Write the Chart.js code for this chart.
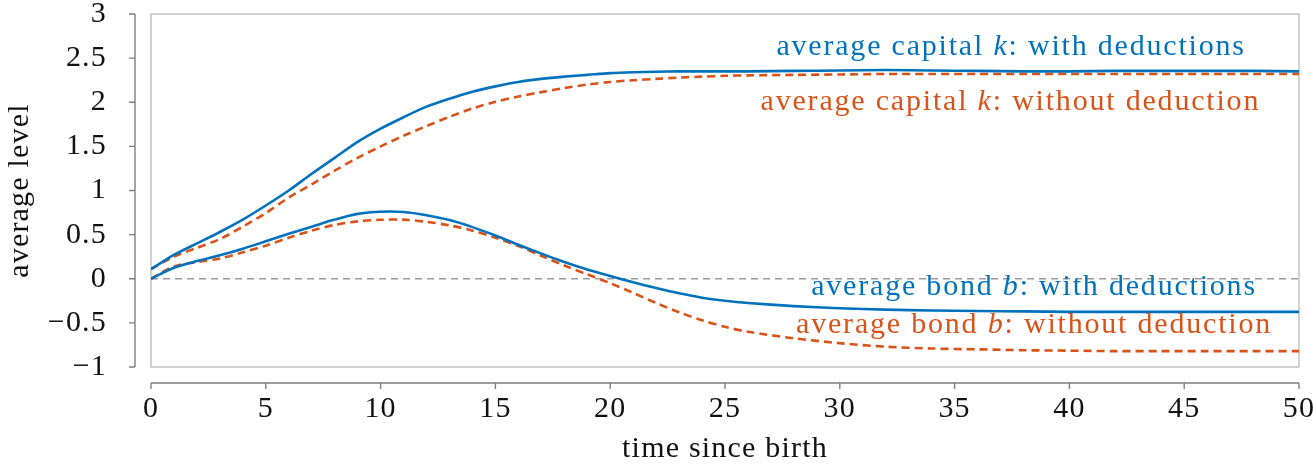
<!DOCTYPE html>
<html>
<head>
<meta charset="utf-8">
<script src="https://cdn.jsdelivr.net/npm/chart.js@4/dist/chart.umd.min.js"></script>
<style>
  html, body { margin: 0; padding: 0; background: #fff; }
  #wrap { width: 1313px; height: 467px; }
</style>
</head>
<body>
<div id="wrap"><canvas id="myChart" width="1313" height="467"></canvas></div>
<script>
// time since birth
const times = [0, 1, 2, 3, 4, 5, 6, 7, 8, 9, 10, 11, 12, 13, 14, 15, 16, 17, 18, 19, 20,
    21, 22, 23, 24, 25, 26, 28, 30, 32, 34, 36, 38, 40, 42, 44, 46, 48, 50];

// average capital k
const capitalWith = [0.11, 0.27, 0.40, 0.53, 0.67, 0.83, 1.00, 1.19, 1.37, 1.55, 1.70, 1.83, 1.95,
    2.04, 2.12, 2.18, 2.23, 2.265, 2.29, 2.31, 2.33, 2.34, 2.345, 2.35, 2.35, 2.35, 2.35,
    2.355, 2.36, 2.365, 2.36, 2.355, 2.35, 2.35, 2.355, 2.355, 2.355, 2.355, 2.35];
const capitalWithout = [0.11, 0.25, 0.35, 0.45, 0.59, 0.745, 0.92, 1.07, 1.225, 1.37, 1.50, 1.62, 1.73,
    1.835, 1.93, 2.005, 2.065, 2.115, 2.16, 2.20, 2.23, 2.25, 2.265, 2.28, 2.29, 2.30, 2.305,
    2.31, 2.315, 2.32, 2.32, 2.32, 2.32, 2.32, 2.32, 2.32, 2.32, 2.32, 2.32];

// average bond b
const bondWith = [0, 0.125, 0.20, 0.265, 0.34, 0.425, 0.51, 0.59, 0.67, 0.735, 0.76, 0.757, 0.72,
    0.665, 0.585, 0.49, 0.385, 0.285, 0.19, 0.105, 0.03, -0.04, -0.105, -0.165, -0.215, -0.25, -0.275,
    -0.31, -0.335, -0.35, -0.36, -0.365, -0.37, -0.375, -0.375, -0.375, -0.375, -0.375, -0.375];
const bondWithout = [0, 0.14, 0.19, 0.23, 0.30, 0.375, 0.465, 0.545, 0.61, 0.65, 0.668, 0.67, 0.645,
    0.605, 0.545, 0.465, 0.37, 0.26, 0.15, 0.05, -0.05, -0.16, -0.275, -0.38, -0.47, -0.545, -0.60,
    -0.675, -0.73, -0.77, -0.79, -0.80, -0.81, -0.815, -0.82, -0.82, -0.82, -0.82, -0.82];

const xTicks = [0, 5, 10, 15, 20, 25, 30, 35, 40, 45, 50];
const yTicks = [-1, -0.5, 0, 0.5, 1, 1.5, 2, 2.5, 3];

const BLUE = "#0072BD";
const ORANGE = "#D95319";
const FONT = "'Liberation Serif', 'Times New Roman', serif";

// inline labels: [before, italic symbol, after], anchored at (t, level) baseline centre
const labels = [
    { parts: ["average capital ", "k", ": with deductions"], t: 37.46, level: 2.538, color: BLUE },
    { parts: ["average capital ", "k", ": without deduction"], t: 37.43, level: 1.915, color: ORANGE },
    { parts: ["average bond ", "b", ": with deductions"], t: 38.46, level: -0.181, color: BLUE },
    { parts: ["average bond ", "b", ": without deduction"], t: 38.46, level: -0.612, color: ORANGE },
];

const pts = (ys) => times.map((t, i) => ({ x: t, y: ys[i] }));

// frame around the plot plus detached x / y axes
const framePlugin = {
    id: "frame",
    beforeDraw(chart) {
        chart.ctx.letterSpacing = "1.2px";
    },
    beforeDatasetsDraw(chart) {
        const { ctx, chartArea: a, scales } = chart;
        ctx.save();
        ctx.strokeStyle = "#b3b3b3";
        ctx.lineWidth = 1.2;
        ctx.strokeRect(a.left, a.top, a.right - a.left, a.bottom - a.top);

        ctx.strokeStyle = "#7f7f7f";
        ctx.lineWidth = 1.4;
        const axX = a.left - 16;
        ctx.beginPath();
        ctx.moveTo(axX, a.top);
        ctx.lineTo(axX, a.bottom);
        yTicks.forEach((v) => {
            const py = scales.y.getPixelForValue(v);
            ctx.moveTo(axX, py);
            ctx.lineTo(axX - 6, py);
        });
        const axY = a.bottom + 16;
        ctx.moveTo(a.left, axY);
        ctx.lineTo(a.right, axY);
        xTicks.forEach((v) => {
            const px = scales.x.getPixelForValue(v);
            ctx.moveTo(px, axY);
            ctx.lineTo(px, axY + 6);
        });
        ctx.stroke();
        ctx.restore();
    },
    afterDatasetsDraw(chart) {
        const { ctx, scales } = chart;
        ctx.save();
        ctx.letterSpacing = "1.8px";
        ctx.textBaseline = "alphabetic";
        ctx.textAlign = "left";
        labels.forEach((lb) => {
            const fonts = ["30px " + FONT, "italic 30px " + FONT, "30px " + FONT];
            const widths = lb.parts.map((p, i) => {
                ctx.font = fonts[i];
                return ctx.measureText(p).width;
            });
            const total = widths.reduce((s, w) => s + w, 0);
            let x = scales.x.getPixelForValue(lb.t) - total / 2;
            const y = scales.y.getPixelForValue(lb.level);
            ctx.fillStyle = lb.color;
            lb.parts.forEach((p, i) => {
                ctx.font = fonts[i];
                ctx.fillText(p, x, y);
                x += widths[i];
            });
        });
        ctx.restore();
    },
};

const ctx = document.getElementById("myChart").getContext("2d");

const myChart = new Chart(ctx, {
    type: "line",
    data: {
        datasets: [
            {
                label: "zero",
                data: [{ x: 0, y: 0 }, { x: 50, y: 0 }],
                borderColor: "#9a9a9a",
                borderWidth: 1.3,
                borderDash: [7, 5],
                pointRadius: 0,
                order: 5,
            },
            {
                label: "average capital k: without deduction",
                data: pts(capitalWithout),
                borderColor: ORANGE,
                borderWidth: 2.6,
                borderDash: [8, 5],
                pointRadius: 0,
                tension: 0.3,
                order: 2,
            },
            {
                label: "average bond b: without deduction",
                data: pts(bondWithout),
                borderColor: ORANGE,
                borderWidth: 2.6,
                borderDash: [8, 5],
                pointRadius: 0,
                tension: 0.3,
                order: 2,
            },
            {
                label: "average capital k: with deductions",
                data: pts(capitalWith),
                borderColor: BLUE,
                borderWidth: 2.6,
                pointRadius: 0,
                tension: 0.3,
                order: 1,
            },
            {
                label: "average bond b: with deductions",
                data: pts(bondWith),
                borderColor: BLUE,
                borderWidth: 2.6,
                pointRadius: 0,
                tension: 0.3,
                order: 1,
            },
        ],
    },
    options: {
        responsive: false,
        animation: false,
        events: [],
        layout: { padding: { top: 14, right: 14, left: 0, bottom: 0 } },
        plugins: {
            legend: { display: false },
            tooltip: { enabled: false },
        },
        scales: {
            x: {
                type: "linear",
                min: 0,
                max: 50,
                border: { display: false },
                grid: { color: "transparent", drawOnChartArea: false, tickLength: 18 },
                afterBuildTicks: (scale) => {
                    scale.ticks = xTicks.map((v) => ({ value: v }));
                },
                ticks: {
                    padding: 6,
                    maxRotation: 0,
                    color: "#111",
                    font: { family: FONT, size: 30 },
                },
                title: {
                    display: true,
                    text: "time since birth",
                    color: "#111",
                    padding: { top: 0, bottom: 0 },
                    font: { family: FONT, size: 30 },
                },
                afterFit: (scale) => {
                    scale.height = 100;
                    scale.paddingLeft = 0;
                    scale.paddingRight = 0;
                },
            },
            y: {
                min: -1,
                max: 3,
                border: { display: false },
                grid: { color: "transparent", drawOnChartArea: false, tickLength: 28 },
                afterBuildTicks: (scale) => {
                    scale.ticks = yTicks.map((v) => ({ value: v }));
                },
                ticks: {
                    padding: 16,
                    color: "#111",
                    font: { family: FONT, size: 30 },
                    callback: (v) => (v < 0 ? "\u2212" + Math.abs(v) : String(v)),
                },
                title: {
                    display: true,
                    text: "average level",
                    color: "#111",
                    padding: { top: 2, bottom: 0 },
                    font: { family: FONT, size: 30 },
                },
                afterFit: (scale) => {
                    scale.width = 151;
                    scale.paddingTop = 0;
                    scale.paddingBottom = 0;
                },
            },
        },
    },
    plugins: [framePlugin],
});
</script>
</body>
</html>
